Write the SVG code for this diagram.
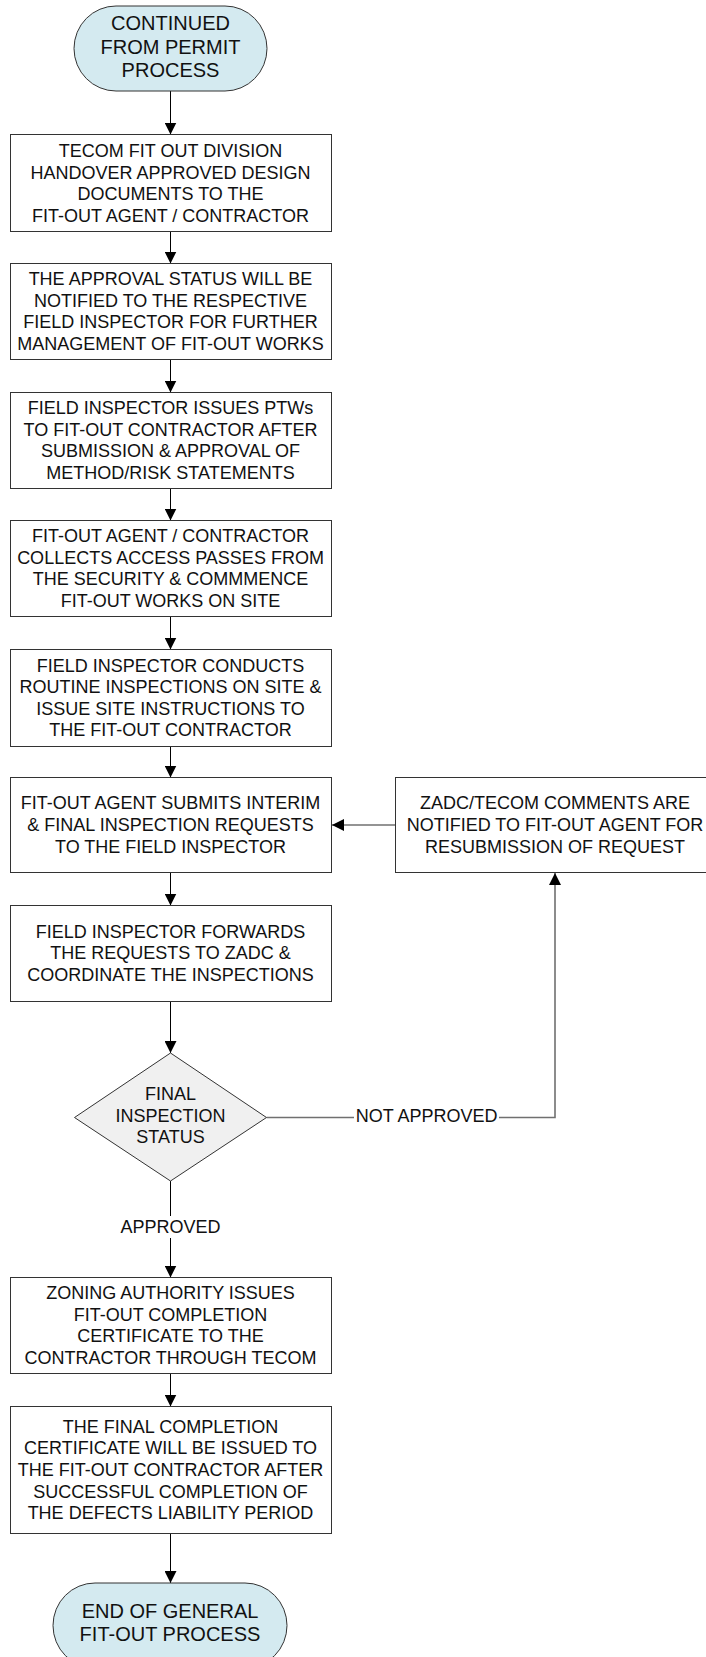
<svg xmlns="http://www.w3.org/2000/svg" width="706" height="1657" viewBox="0 0 706 1657">
<style>
.box{fill:#ffffff;stroke:#333333;stroke-width:1}
.term{fill:#d4eaf0;stroke:#333333;stroke-width:1}
.dec{fill:#f0f0f0;stroke:#333333;stroke-width:1}
.t{font-family:"Liberation Sans",Arial,sans-serif;font-size:18px;fill:#111111;text-anchor:middle}
.tt{font-family:"Liberation Sans",Arial,sans-serif;font-size:20px;fill:#111111;text-anchor:middle}
.c{fill:none;stroke:#000000;stroke-width:1}
.cg{fill:none;stroke:#707070;stroke-width:1.6}
</style>
<defs>
<marker id="ah" markerUnits="userSpaceOnUse" markerWidth="12" markerHeight="12" viewBox="0 0 12 12" refX="12" refY="6" orient="auto">
<path d="M0,0 L12,6 L0,12 z" fill="#000000"/>
</marker>
</defs>

<g id="connectors">
<line class="c" x1="170.5" y1="91" x2="170.5" y2="134.5" marker-end="url(#ah)"/>
<line class="c" x1="170.5" y1="231.5" x2="170.5" y2="263.5" marker-end="url(#ah)"/>
<line class="c" x1="170.5" y1="359.5" x2="170.5" y2="392.5" marker-end="url(#ah)"/>
<line class="c" x1="170.5" y1="488.5" x2="170.5" y2="520.5" marker-end="url(#ah)"/>
<line class="c" x1="170.5" y1="616.5" x2="170.5" y2="649.5" marker-end="url(#ah)"/>
<line class="c" x1="170.5" y1="746.5" x2="170.5" y2="777.5" marker-end="url(#ah)"/>
<line class="c" x1="170.5" y1="872.5" x2="170.5" y2="905.5" marker-end="url(#ah)"/>
<line class="c" x1="170.5" y1="1001.5" x2="170.5" y2="1053" marker-end="url(#ah)"/>
<line class="c" x1="170.5" y1="1181" x2="170.5" y2="1277.5" marker-end="url(#ah)"/>
<line class="c" x1="170.5" y1="1373.5" x2="170.5" y2="1406.5" marker-end="url(#ah)"/>
<line class="c" x1="170.5" y1="1533.5" x2="170.5" y2="1583" marker-end="url(#ah)"/>
<polyline class="cg" points="266.5,1117.5 555,1117.5 555,873" marker-end="url(#ah)"/>
<line class="cg" x1="395.5" y1="825" x2="332" y2="825" marker-end="url(#ah)"/>
<rect x="119" y="1216" width="103" height="22" fill="#ffffff"/>
<text class="t" x="170.5" y="1233.3">APPROVED</text>
<rect x="354" y="1104" width="145" height="22" fill="#ffffff"/>
<text class="t" x="426.6" y="1121.7">NOT APPROVED</text>
</g>

<g id="start">
<rect class="term" x="74" y="6" width="193" height="85" rx="42" ry="42.5"/>
<text class="tt" x="170.5" y="30">CONTINUED</text>
<text class="tt" x="170.5" y="53.5">FROM PERMIT</text>
<text class="tt" x="170.5" y="77">PROCESS</text>
</g>

<g id="box1">
<rect class="box" x="10.5" y="134.5" width="321" height="97"/>
<text class="t" x="170.5" y="157">TECOM FIT OUT DIVISION</text>
<text class="t" x="170.5" y="178.6">HANDOVER APPROVED DESIGN</text>
<text class="t" x="170.5" y="200.2">DOCUMENTS TO THE</text>
<text class="t" x="170.5" y="221.8">FIT-OUT AGENT / CONTRACTOR</text>
</g>

<g id="box2">
<rect class="box" x="10.5" y="263.5" width="321" height="96"/>
<text class="t" x="170.5" y="285">THE APPROVAL STATUS WILL BE</text>
<text class="t" x="170.5" y="306.6">NOTIFIED TO THE RESPECTIVE</text>
<text class="t" x="170.5" y="328.2">FIELD INSPECTOR FOR FURTHER</text>
<text class="t" x="170.5" y="349.8">MANAGEMENT OF FIT-OUT WORKS</text>
</g>

<g id="box3">
<rect class="box" x="10.5" y="392.5" width="321" height="96"/>
<text class="t" x="170.5" y="414">FIELD INSPECTOR ISSUES PTWs</text>
<text class="t" x="170.5" y="435.6">TO FIT-OUT CONTRACTOR AFTER</text>
<text class="t" x="170.5" y="457.2">SUBMISSION &amp; APPROVAL OF</text>
<text class="t" x="170.5" y="478.8">METHOD/RISK STATEMENTS</text>
</g>

<g id="box4">
<rect class="box" x="10.5" y="520.5" width="321" height="96"/>
<text class="t" x="170.5" y="542">FIT-OUT AGENT / CONTRACTOR</text>
<text class="t" x="170.5" y="563.6">COLLECTS ACCESS PASSES FROM</text>
<text class="t" x="170.5" y="585.2">THE SECURITY &amp; COMMMENCE</text>
<text class="t" x="170.5" y="606.8">FIT-OUT WORKS ON SITE</text>
</g>

<g id="box5">
<rect class="box" x="10.5" y="649.5" width="321" height="97"/>
<text class="t" x="170.5" y="671.5">FIELD INSPECTOR CONDUCTS</text>
<text class="t" x="170.5" y="693.1">ROUTINE INSPECTIONS ON SITE &amp;</text>
<text class="t" x="170.5" y="714.7">ISSUE SITE INSTRUCTIONS TO</text>
<text class="t" x="170.5" y="736.3">THE FIT-OUT CONTRACTOR</text>
</g>

<g id="box6">
<rect class="box" x="10.5" y="777.5" width="321" height="95"/>
<text class="t" x="170.5" y="809.3">FIT-OUT AGENT SUBMITS INTERIM</text>
<text class="t" x="170.5" y="830.9">&amp; FINAL INSPECTION REQUESTS</text>
<text class="t" x="170.5" y="852.5">TO THE FIELD INSPECTOR</text>
</g>

<g id="comments">
<rect class="box" x="395.5" y="777.5" width="360" height="95"/>
<text class="t" x="555" y="809.3">ZADC/TECOM COMMENTS ARE</text>
<text class="t" x="555" y="830.9">NOTIFIED TO FIT-OUT AGENT FOR</text>
<text class="t" x="555" y="852.5">RESUBMISSION OF REQUEST</text>
</g>

<g id="box7">
<rect class="box" x="10.5" y="905.5" width="321" height="96"/>
<text class="t" x="170.5" y="937.8">FIELD INSPECTOR FORWARDS</text>
<text class="t" x="170.5" y="959.4">THE REQUESTS TO ZADC &amp;</text>
<text class="t" x="170.5" y="981">COORDINATE THE INSPECTIONS</text>
</g>

<g id="decision">
<polygon class="dec" points="170.5,1053 266.5,1117.5 170.5,1181 74.5,1117.5"/>
<text class="t" x="170.5" y="1100">FINAL</text>
<text class="t" x="170.5" y="1121.7">INSPECTION</text>
<text class="t" x="170.5" y="1143.3">STATUS</text>
</g>

<g id="box8">
<rect class="box" x="10.5" y="1277.5" width="321" height="96"/>
<text class="t" x="170.5" y="1299">ZONING AUTHORITY ISSUES</text>
<text class="t" x="170.5" y="1320.6">FIT-OUT COMPLETION</text>
<text class="t" x="170.5" y="1342.2">CERTIFICATE TO THE</text>
<text class="t" x="170.5" y="1363.8">CONTRACTOR THROUGH TECOM</text>
</g>

<g id="box9">
<rect class="box" x="10.5" y="1406.5" width="321" height="127"/>
<text class="t" x="170.5" y="1432.7">THE FINAL COMPLETION</text>
<text class="t" x="170.5" y="1454.3">CERTIFICATE WILL BE ISSUED TO</text>
<text class="t" x="170.5" y="1475.9">THE FIT-OUT CONTRACTOR AFTER</text>
<text class="t" x="170.5" y="1497.5">SUCCESSFUL COMPLETION OF</text>
<text class="t" x="170.5" y="1519.1">THE DEFECTS LIABILITY PERIOD</text>
</g>

<g id="end">
<rect class="term" x="53" y="1583" width="234" height="85" rx="42" ry="42.5"/>
<text class="tt" x="170" y="1617.5">END OF GENERAL</text>
<text class="tt" x="170" y="1640.5">FIT-OUT PROCESS</text>
</g>
</svg>
